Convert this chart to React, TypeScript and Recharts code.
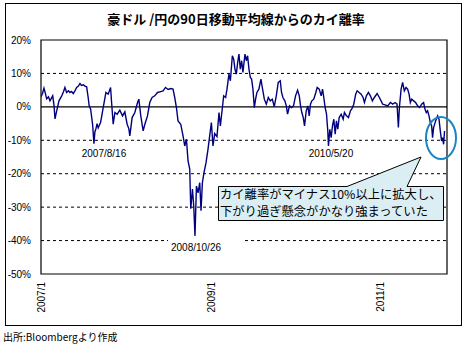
import { LineChart, Line, XAxis, YAxis, ReferenceLine, ReferenceArea } from "recharts"

// decimal years of each observation (2007.0 = 2007/1/1)
const years = [
  2007.0, 2007.018, 2007.035, 2007.047, 2007.067, 2007.088, 2007.106, 2007.138, 2007.153, 2007.165,
  2007.185, 2007.212, 2007.244, 2007.265, 2007.282, 2007.302, 2007.324, 2007.341, 2007.359, 2007.38,
  2007.4, 2007.42, 2007.441, 2007.459, 2007.476, 2007.498, 2007.518, 2007.538, 2007.556, 2007.568,
  2007.585, 2007.608, 2007.624, 2007.635, 2007.647, 2007.661, 2007.674, 2007.702, 2007.718, 2007.733,
  2007.749, 2007.765, 2007.792, 2007.82, 2007.832, 2007.851, 2007.871, 2007.898, 2007.929, 2007.961,
  2007.988, 2008.015, 2008.035, 2008.047, 2008.074, 2008.106, 2008.138, 2008.153, 2008.176, 2008.204,
  2008.224, 2008.255, 2008.282, 2008.309, 2008.341, 2008.373, 2008.4, 2008.439, 2008.467, 2008.498,
  2008.529, 2008.556, 2008.576, 2008.596, 2008.615, 2008.647, 2008.674, 2008.694, 2008.714, 2008.733,
  2008.753, 2008.765, 2008.785, 2008.8, 2008.815, 2008.832, 2008.851, 2008.871, 2008.886, 2008.902,
  2008.921, 2008.945, 2008.968, 2008.988, 2009.008, 2009.027, 2009.047, 2009.074, 2009.098, 2009.114,
  2009.138, 2009.153, 2009.176, 2009.192, 2009.215, 2009.232, 2009.255, 2009.271, 2009.286, 2009.302,
  2009.318, 2009.333, 2009.349, 2009.365, 2009.38, 2009.404, 2009.42, 2009.435, 2009.451, 2009.467,
  2009.482, 2009.498, 2009.514, 2009.529, 2009.545, 2009.568, 2009.592, 2009.608, 2009.632, 2009.655,
  2009.679, 2009.702, 2009.726, 2009.749, 2009.773, 2009.796, 2009.82, 2009.835, 2009.851, 2009.874,
  2009.891, 2009.906, 2009.929, 2009.953, 2009.976, 2010.0, 2010.024, 2010.044, 2010.059, 2010.074,
  2010.091, 2010.106, 2010.126, 2010.145, 2010.161, 2010.176, 2010.192, 2010.215, 2010.239, 2010.255,
  2010.279, 2010.302, 2010.318, 2010.333, 2010.349, 2010.365, 2010.38, 2010.388, 2010.404, 2010.42,
  2010.435, 2010.451, 2010.467, 2010.482, 2010.498, 2010.514, 2010.538, 2010.561, 2010.576, 2010.6,
  2010.624, 2010.647, 2010.662, 2010.686, 2010.709, 2010.726, 2010.749, 2010.773, 2010.796, 2010.812,
  2010.835, 2010.859, 2010.882, 2010.906, 2010.929, 2010.961, 2010.988, 2011.008, 2011.027, 2011.055,
  2011.086, 2011.118, 2011.145, 2011.173, 2011.196, 2011.212, 2011.224, 2011.244, 2011.262, 2011.282,
  2011.302, 2011.321, 2011.338, 2011.353, 2011.368, 2011.392, 2011.415, 2011.439, 2011.462, 2011.486,
  2011.509, 2011.526, 2011.541, 2011.556, 2011.573, 2011.588, 2011.604, 2011.615, 2011.627, 2011.651,
  2011.674, 2011.691, 2011.706, 2011.721, 2011.733, 2011.745, 2011.756,
]

// deviation from the 90-day moving average (%)
const rates = [
  3.0, 4.0, 5.6, 4.5, 2.4, 3.0, 1.8, 3.3, 0.5, -3.6,
  -1.2, 1.8, 3.3, 4.5, 5.8, 4.3, 4.8, 4.3, 4.6, 4.0,
  4.8, 5.8, 6.2, 7.0, 6.4, 6.6, 6.2, 6.0, 2.8, 0.3,
  -0.7, -5.2, -11.0, -7.5, -6.6, -5.0, -6.3, -4.7, -2.5, -0.2,
  2.0, 4.3, 3.8, 5.8, 1.3, -5.2, -1.7, -2.2, -1.0, -2.7,
  -1.5, -5.2, -6.5, -8.7, -3.2, -1.7, 1.3, 2.3, -2.7, -7.2,
  -5.2, -2.7, 1.3, 2.8, 3.3, 4.3, 4.5, 4.8, 5.8, 5.2,
  5.5, 5.3, 2.8, -0.2, -4.2, -5.2, -8.7, -11.7, -9.7, -16.2,
  -18.6, -30.5, -24.6, -29.6, -38.6, -23.7, -25.7, -22.7, -31.1, -22.7,
  -19.7, -16.7, -12.7, -8.7, -4.7, -11.7, -8.0, -8.9, -1.7, -5.7,
  -0.2, 3.3, 2.8, 5.3, 9.8, 7.8, 15.3, 14.3, 11.3, 9.8,
  13.3, 15.8, 11.3, 13.8, 10.3, 15.8, 13.8, 15.3, 11.3, 8.8,
  8.3, 5.3, -0.2, 2.3, 4.3, 5.3, 8.3, 5.8, 2.3, 0.8,
  2.8, 1.8, 2.3, 0.1, 3.3, 7.3, 7.8, 4.3, 2.8, 1.8,
  0.3, -2.2, 0.3, -0.2, 0.3, 3.3, 5.0, 3.3, 0.3, -1.7,
  -3.2, -5.7, -1.2, 0.3, -2.7, 0.8, 1.8, 2.3, 4.3, 5.8,
  5.3, 3.3, 5.3, 2.8, -0.2, -2.2, -7.2, -11.7, -6.7, -9.2,
  -5.7, -3.7, -8.2, -4.2, -6.7, -3.2, -2.2, -3.7, -1.7, -2.7,
  -3.2, -1.2, -0.7, 0.8, 3.8, 4.8, 4.3, 3.8, 2.8, 1.3,
  3.3, 4.3, 3.3, 1.8, 2.8, 4.0, 2.8, 1.8, 0.8, 0.6,
  0.3, 1.3, 0.8, 1.3, 0.8, -6.2, -0.2, 5.3, 7.3, 4.8,
  5.8, 5.3, 3.8, 1.3, 2.3, 1.8, 1.3, 0.3, -0.2, 0.8,
  1.3, -0.7, -1.7, -1.2, -2.7, -4.7, -5.7, -9.2, -6.2, -4.2,
  -2.7, -3.7, -7.2, -10.2, -9.2, -11.2, -7.2,
]

const yTicks = [20, 10, 0, -10, -20, -30, -40, -50]
const xTicks = [2007, 2009, 2011]
const dashedLevels = [10, -10, -20, -30, -40]

const data = years.map((t, i) => ({ t, rate: rates[i] }))

const numFont = "'Liberation Sans', Arial, sans-serif"
const jpFont = "'Noto Sans CJK JP', sans-serif"

const YTick = ({ x, y, payload }: any) => (
  <text x={x - 2} y={y} dy="0.35em" textAnchor="end" fontSize={10} fontFamily={numFont} fill="#000">
    {`${payload.value}%`}
  </text>
)

const XTick = ({ x, payload }: any) => (
  <text
    transform={`translate(${x + 4},282) rotate(-90)`}
    textAnchor="end"
    fontSize={10}
    fontFamily={numFont}
    fill="#000"
  >
    {`${payload.value}/1`}
  </text>
)

export default function App() {
  return (
    <div style={{ position: "absolute", left: 0, top: 0, width: 465, height: 344, background: "#fff" }}>
      <LineChart width={465} height={344} data={data} margin={{ top: 40, right: 18, left: 5, bottom: 0 }}>
        <XAxis
          type="number"
          dataKey="t"
          domain={[2007, 2011.785]}
          ticks={xTicks}
          tick={<XTick />}
          tickLine={false}
          axisLine={false}
          height={70}
          allowDataOverflow
        />
        <YAxis
          domain={[-50, 20]}
          ticks={yTicks}
          tick={<YTick />}
          tickLine={false}
          axisLine={false}
          width={36}
          allowDataOverflow
        />
        {dashedLevels.map((v) => (
          <ReferenceLine key={v} y={v} stroke="#000" strokeDasharray="3 3" />
        ))}
        <ReferenceLine y={0} stroke="#000" strokeWidth={1.2} />
        <ReferenceArea x1={2007} x2={2011.785} y1={-50} y2={20} stroke="#000" strokeWidth={1.2} fill="#fff" fillOpacity={0} />
        <Line
          type="linear"
          dataKey="rate"
          stroke="#00007f"
          strokeWidth={1.4}
          dot={false}
          isAnimationActive={false}
        />
      </LineChart>
      <svg width={465} height={344} style={{ position: "absolute", left: 0, top: 0, pointerEvents: "none" }}>
        <rect x={5.5} y={3.5} width={456} height={322} fill="none" stroke="#000" strokeWidth={1} />
        <text x={236} y={24} textAnchor="middle" fontSize={13} fontWeight="bold" fontFamily={jpFont} fill="#000">
          豪ドル /円の90日移動平均線からのカイ離率
        </text>
        <text x={104} y={157} textAnchor="middle" fontSize={10} fontFamily={numFont} fill="#000">2007/8/16</text>
        <text x={331} y={157} textAnchor="middle" fontSize={10} fontFamily={numFont} fill="#000">2010/5/20</text>
        <rect x={168} y={238} width={77} height={18} fill="#fff" />
        <text x={196} y={251} textAnchor="middle" fontSize={10} fontFamily={numFont} fill="#000">2008/10/26</text>
        <path
          d="M218.5,186.5 H347 L421,157 L407,186.5 H443.5 V220.5 H218.5 Z"
          fill="#daeef3"
          stroke="#000"
          strokeWidth={1}
        />
        <text x={220} y={199} fontSize={12.3} fontFamily={jpFont} fill="#000">カイ離率がマイナス10%以上に拡大し、</text>
        <text x={220} y={216} fontSize={12.3} fontFamily={jpFont} fill="#000">下がり過ぎ懸念がかなり強まっていた</text>
        <ellipse cx={441} cy={138} rx={15} ry={21} fill="none" stroke="#1b86c6" strokeWidth={2} />
        <text x={3} y={341} fontSize={10} fontFamily={jpFont} fill="#000">出所:Bloombergより作成</text>
      </svg>
    </div>
  )
}
